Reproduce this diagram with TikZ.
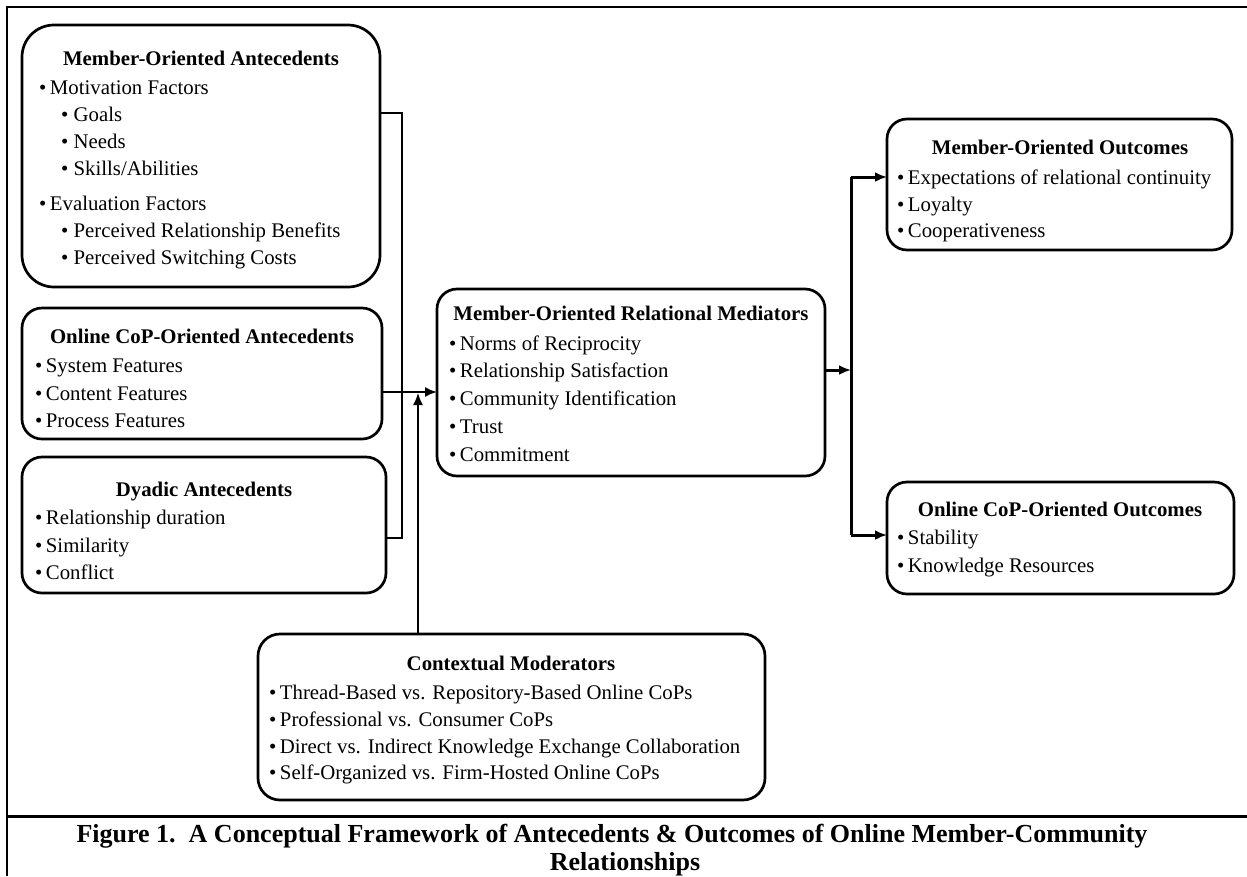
\documentclass[tikz,border=0pt]{standalone}
\usepackage{fontspec}
\setmainfont{Liberation Serif}
\usepackage{tikz}
\usetikzlibrary{arrows.meta,positioning}

\begin{document}
\begin{tikzpicture}[x=1pt,y=-1pt,
        every node/.style={font=\fontsize{20.8pt}{25pt}\selectfont},
        frame/.style={draw, line width=2.7pt, rounded corners=20pt, anchor=north west, inner sep=0pt, outer sep=0pt},
        head/.style={font=\fontsize{20.8pt}{25pt}\selectfont\bfseries, inner sep=0pt, anchor=base},
        item/.style={inner sep=0pt, anchor=base west},
        link/.style={line width=2pt},
        tip/.style={-{Latex[length=12pt,width=10pt]}}]
            \useasboundingbox (0,0) rectangle (1247,876);
            \draw[line width=2pt] (7,876) -- (7,7) -- (1247,7);
            \draw[line width=3pt] (7,816) -- (1247,816);

            % antecedents
            \node[frame, rounded corners=32pt, minimum width=358pt, minimum height=262pt] (ma) at (22,25) {};
            \node[head] (ma-h) at (201,65) {Member-Oriented Antecedents};
            \foreach \t/\y in {Motivation Factors/94, Evaluation Factors/210}
                \node[item] at (39,\y) {\textbullet\,\t};
            \foreach \t/\y in {Goals/121, Needs/148, {Skills/Abilities}/175, Perceived Relationship Benefits/237, Perceived Switching Costs/264}
                \node[item] at (61,\y) {\textbullet\ \t};

            \node[frame, minimum width=360pt, minimum height=131pt] (oa) at (22,308) {};
            \node[head] (oa-h) at (202,343) {Online CoP-Oriented Antecedents};
            \foreach \t/\y in {System Features/372, Content Features/400, Process Features/427}
                \node[item] at (35,\y) {\textbullet\,\t};

            \node[frame, minimum width=364pt, minimum height=136pt] (da) at (22,457) {};
            \node[head] (da-h) at (204,496) {Dyadic Antecedents};
            \foreach \t/\y in {Relationship duration/524, Similarity/552, Conflict/579}
                \node[item] at (35,\y) {\textbullet\,\t};

            % mediators
            \node[frame, minimum width=388pt, minimum height=187pt] (rm) at (437,289) {};
            \node[head] (rm-h) at (631,320) {Member-Oriented Relational Mediators};
            \foreach \t/\y in {Norms of Reciprocity/350, Relationship Satisfaction/377, Community Identification/405, Trust/433, Commitment/461}
                \node[item] at (449,\y) {\textbullet\,\t};

            % outcomes
            \node[frame, minimum width=345pt, minimum height=131pt] (mo) at (887,119) {};
            \node[head] (mo-h) at (1060,154) {Member-Oriented Outcomes};
            \foreach \t/\y in {Expectations of relational continuity/184, Loyalty/211, Cooperativeness/237}
                \node[item] at (897,\y) {\textbullet\,\t};

            \node[frame, minimum width=347pt, minimum height=112pt] (oo) at (887,482) {};
            \node[head] (oo-h) at (1060,516) {Online CoP-Oriented Outcomes};
            \foreach \t/\y in {Stability/544, Knowledge Resources/572}
                \node[item] at (897,\y) {\textbullet\,\t};

            % moderators
            \node[frame, rounded corners=22pt, minimum width=507pt, minimum height=166pt] (cm) at (258,634) {};
            \node[head] (cm-h) at (511,670) {Contextual Moderators};
            \foreach \t/\y in {Thread-Based vs. Repository-Based Online CoPs/699, Professional vs. Consumer CoPs/726, Direct vs. Indirect Knowledge Exchange Collaboration/753, Self-Organized vs. Firm-Hosted Online CoPs/779}
                \node[item] at (269,\y) {\textbullet\,\t};

            % connectors
            \coordinate (ja) at (402,113);
            \coordinate (jo) at (402,392);
            \coordinate (jd) at (402,538);
            \coordinate (jm) at (418,393);
            \coordinate (jr) at (851,370);
            \coordinate (ju) at (851,177);
            \coordinate (jw) at (851,535);
            \draw[link] (ma.east |- ja) -- (ja) -- (jd) -- (da.east |- jd);
            \draw[link, tip] (oa.east |- jo) -- (rm.west |- jo);
            \draw[line width=1.5pt, tip] (cm.north -| jm) -- (jm);
            \draw[line width=3pt, tip] (rm.east |- jr) -- (jr);
            \draw[line width=3pt] (ju) -- (jw);
            \draw[line width=3pt, tip] (ju) -- (mo.west |- ju);
            \draw[line width=3pt, tip] (jw) -- (oo.west |- jw);

            \node[anchor=base, font=\fontsize{26pt}{29pt}\selectfont\bfseries, inner sep=0pt] (cap1) at (612,842) {Figure 1.\ \ A Conceptual Framework of Antecedents \& Outcomes of Online Member-Community};
            \node[anchor=base, font=\fontsize{26pt}{29pt}\selectfont\bfseries, inner sep=0pt] (cap2) at (625,870) {Relationships};
        \end{tikzpicture}
\end{document}
